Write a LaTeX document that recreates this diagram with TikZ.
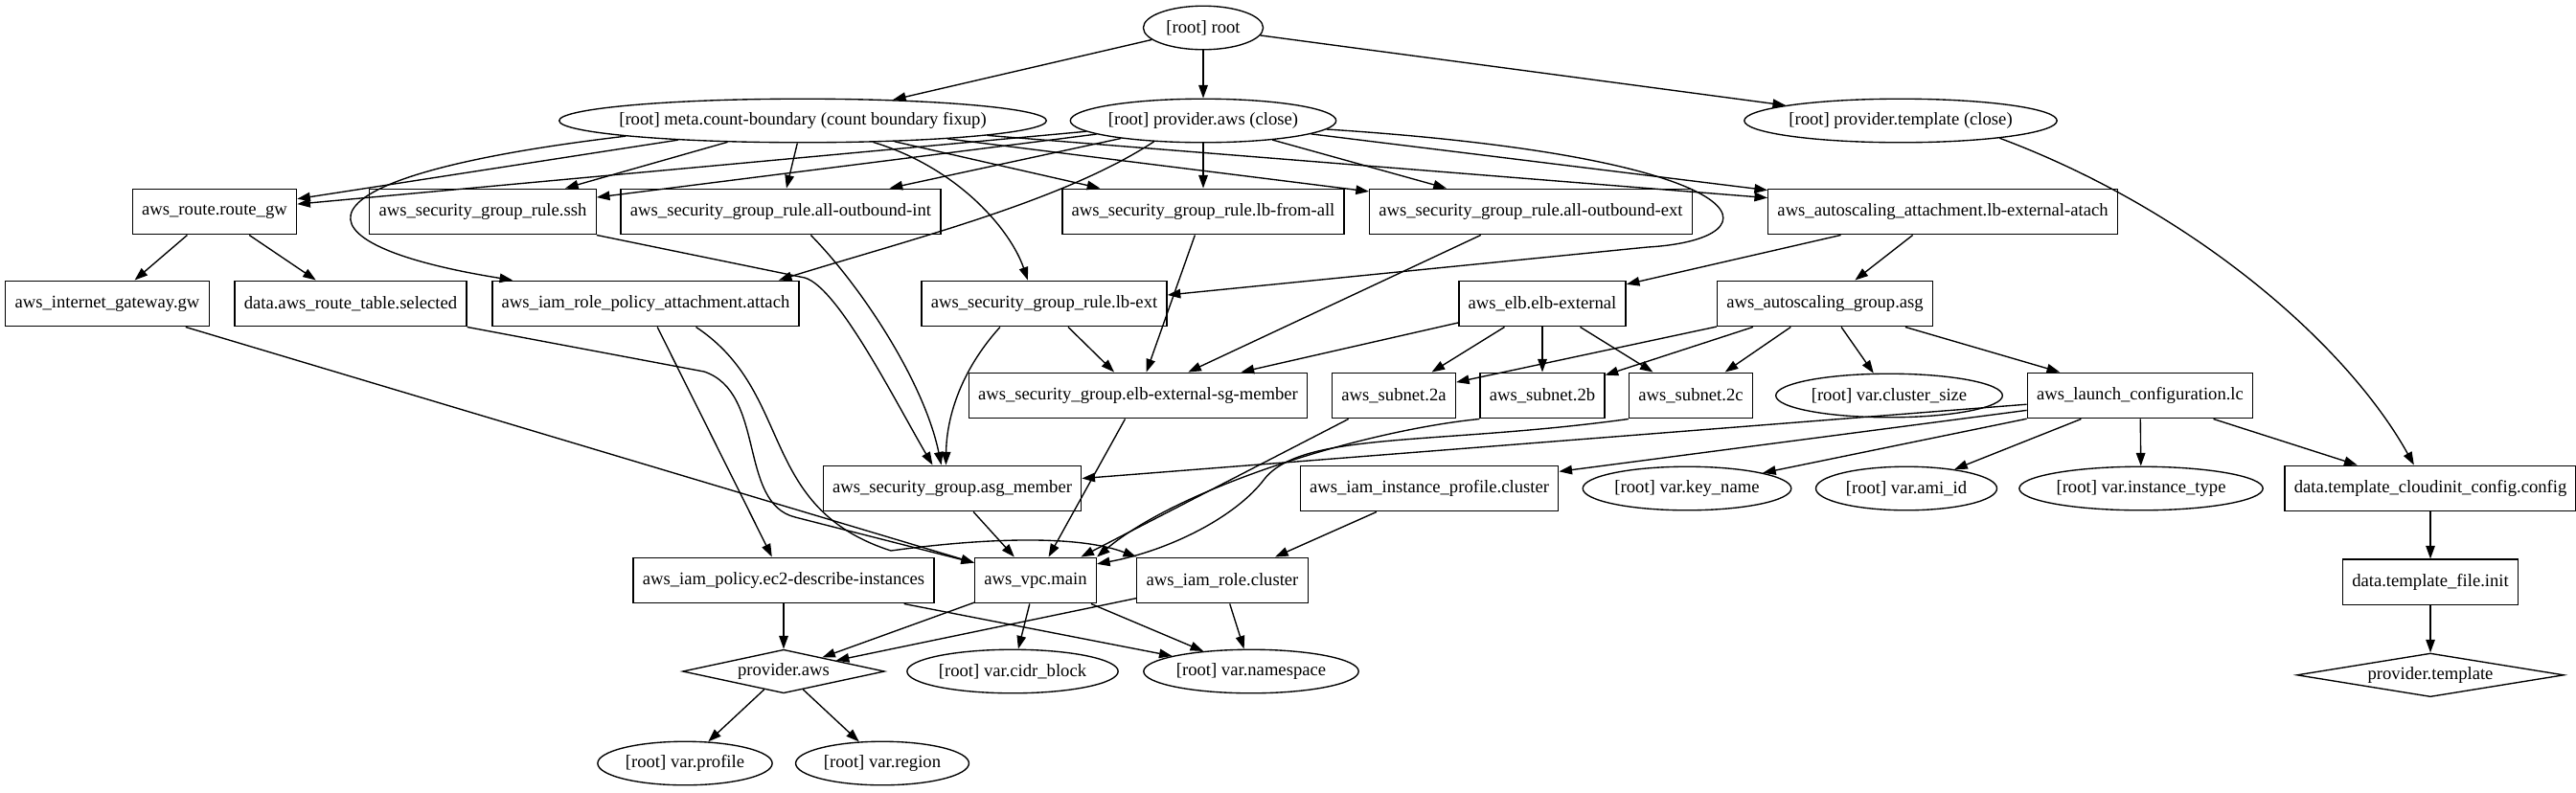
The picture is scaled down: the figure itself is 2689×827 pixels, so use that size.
\documentclass[tikz,border=0pt]{standalone}
\usepackage{fontspec}
\setmainfont{Liberation Serif}
\usetikzlibrary{arrows.meta,positioning,shapes.geometric}

\begin{document}
\begin{tikzpicture}[
    x=0.7353pt, y=-0.7353pt,
    node distance=36pt,
    resbox/.style={rectangle, draw, line width=1pt, inner xsep=7.2pt,
                   minimum height=35pt, font=\fontsize{13.7}{16}\selectfont},
    oval/.style={ellipse, draw, line width=1pt, inner xsep=-40pt, inner ysep=-12pt,
                 minimum height=33.5pt, minimum width=#1, font=\fontsize{13.7}{16}\selectfont},
    prov/.style={diamond, draw, line width=1pt, inner xsep=-30pt, inner ysep=-10pt,
                 minimum height=33.5pt, minimum width=#1, font=\fontsize{13.7}{16}\selectfont},
    arr/.style={-{Triangle[length=10pt,width=7pt]}, line width=1pt},
]
\useasboundingbox (0,0) rectangle (2689,827);

% Root and close nodes
\node[oval=92pt] (root) at (1256,29) {[root] root};
\node[oval=374pt] (meta) at (838,126) {[root] meta.count-boundary (count boundary fixup)};
\node[oval=204pt] (pclose) at (1256,126) {[root] provider.aws (close)};
\node[oval=240pt] (ptclose) at (1984,126) {[root] provider.template (close)};

% Rules and attachments
\node[resbox] (routegw) at (224,221) {aws\_route.route\_gw};
\node[resbox] (ssh) at (504,221) {aws\_security\_group\_rule.ssh};
\node[resbox] (outint) at (815,221) {aws\_security\_group\_rule.all-outbound-int};
\node[resbox] (lbfromall) at (1256,221) {aws\_security\_group\_rule.lb-from-all};
\node[resbox] (outext) at (1598,221) {aws\_security\_group\_rule.all-outbound-ext};
\node[resbox] (asgattach) at (2028,221) {aws\_autoscaling\_attachment.lb-external-atach};

\node[resbox] (igw) at (112,317) {aws\_internet\_gateway.gw};
\node[resbox] (rtsel) at (366,317) {data.aws\_route\_table.selected};
\node[resbox] (attach) at (674,317) {aws\_iam\_role\_policy\_attachment.attach};
\node[resbox] (lbext) at (1090,317) {aws\_security\_group\_rule.lb-ext};
\node[resbox] (elb) at (1610,317) {aws\_elb.elb-external};
\node[resbox] (asg) at (1905,317) {aws\_autoscaling\_group.asg};

% Groups, subnets, launch config
\node[resbox] (elbsg) at (1188,413) {aws\_security\_group.elb-external-sg-member};
\node[resbox] (sn2a) at (1455,413) {aws\_subnet.2a};
\node[resbox] (sn2b) at (1610,413) {aws\_subnet.2b};
\node[resbox] (sn2c) at (1765,413) {aws\_subnet.2c};
\node[oval=174pt] (clsize) at (1972,413) {[root] var.cluster\_size};
\node[resbox] (lc) at (2234,413) {aws\_launch\_configuration.lc};

\node[resbox] (asgmem) at (994,510) {aws\_security\_group.asg\_member};
\node[resbox] (instprof) at (1492,510) {aws\_iam\_instance\_profile.cluster};
\node[oval=160pt] (keyname) at (1761,510) {[root] var.key\_name};
\node[oval=139pt] (amiid) at (1990,510) {[root] var.ami\_id};
\node[oval=187pt] (insttype) at (2235,510) {[root] var.instance\_type};
\node[resbox] (cloudinit) at (2537,510) {data.template\_cloudinit\_config.config};

% VPC, IAM, providers
\node[resbox] (iampol) at (818,606) {aws\_iam\_policy.ec2-describe-instances};
\node[resbox] (vpc) at (1081,606) {aws\_vpc.main};
\node[resbox] (iamrole) at (1276,606) {aws\_iam\_role.cluster};
\node[resbox, below=of cloudinit] (tfinit) {data.template\_file.init};

\node[prov=155pt] (provaws) at (818,701) {provider.aws};
\node[oval=162pt] (cidr) at (1057,701) {[root] var.cidr\_block};
\node[oval=165pt] (ns) at (1306,701) {[root] var.namespace};
\node[prov=205pt, below=of tfinit] (provtpl) {provider.template};

\node[oval=134pt] (profile) at (715,797) {[root] var.profile};
\node[oval=133pt] (region) at (921,797) {[root] var.region};

% Arrows from root
\draw[arr] (root) -- (meta);
\draw[arr] (root) -- (pclose);
\draw[arr] (root) -- (ptclose);

% Count boundary
\draw[arr] (meta) -- (routegw);
\draw[arr] (meta.185) .. controls (290,185) and (300,255) .. (attach.170);
\draw[arr] (meta) -- (ssh);
\draw[arr] (meta) -- (outint);
\draw[arr] (meta.-17) .. controls (1000,175) and (1055,240) .. (lbext.125);
\draw[arr] (meta) -- (lbfromall);
\draw[arr] (meta) -- (outext);
\draw[arr] (meta) -- (asgattach);

% Provider close
\draw[arr] (pclose) -- (routegw);
\draw[arr] (pclose) -- (ssh);
\draw[arr] (pclose) -- (outint);
\draw[arr] (pclose.203) .. controls (1110,210) and (950,250) .. (attach.10);
\draw[arr] (pclose) -- (lbfromall);
\draw[arr] (pclose) -- (outext);
\draw[arr] (pclose.-4) .. controls (1850,165) and (1860,250) .. (1720,258) -- (lbext.4);
\draw[arr] (pclose) -- (asgattach);

% Route
\draw[arr] (routegw) -- (igw);
\draw[arr] (routegw) -- (rtsel);
\draw[arr] (igw) -- (vpc.164);
\draw[arr] (rtsel.south east) -- (735,388) .. controls (800,410) and (770,525) .. (830,540) -- (vpc.164);

% Policy attachment
\draw[arr] (attach) -- (iampol);
\draw[arr] (attach.-25) .. controls (830,410) and (790,530) .. (930,575)
    .. controls (1040,560) and (1130,560) .. (iamrole.north west);

% Security group rules
\draw[arr] (ssh.south east) -- (840,290) .. controls (875,300) and (935,420) .. (asgmem.130);
\draw[arr] (outint.-38) .. controls (900,300) and (965,400) .. (asgmem.115);
\draw[arr] (lbext.-152) .. controls (1000,390) and (988,440) .. (asgmem.105);
\draw[arr] (lbext) -- (elbsg);
\draw[arr] (lbfromall) -- (elbsg);
\draw[arr] (outext) -- (elbsg);

% ELB and autoscaling
\draw[arr] (asgattach) -- (elb);
\draw[arr] (asgattach) -- (asg);
\draw[arr] (elb) -- (elbsg);
\draw[arr] (elb) -- (sn2a);
\draw[arr] (elb) -- (sn2b);
\draw[arr] (elb) -- (sn2c);
\draw[arr] (asg) -- (sn2a);
\draw[arr] (asg) -- (sn2b);
\draw[arr] (asg) -- (sn2c);
\draw[arr] (asg) -- (clsize);
\draw[arr] (asg) -- (lc);

% Into the VPC
\draw[arr] (elbsg) -- (vpc);
\draw[arr] (asgmem) -- (vpc);
\draw[arr] (sn2a) -- (vpc);
\draw[arr] (sn2b.south west) .. controls (1420,450) and (1230,510) .. (vpc.north east);
\draw[arr] (sn2c.south west) .. controls (1500,465) and (1360,450) .. (1320,500)
    .. controls (1290,540) and (1220,575) .. (vpc.15);

% IAM and variables
\draw[arr] (instprof) -- (iamrole);
\draw[arr] (iampol) -- (provaws);
\draw[arr] (iampol) -- (ns);
\draw[arr] (vpc) -- (provaws);
\draw[arr] (vpc) -- (cidr);
\draw[arr] (vpc) -- (ns);
\draw[arr] (iamrole) -- (provaws);
\draw[arr] (iamrole) -- (ns);
\draw[arr] (provaws) -- (profile);
\draw[arr] (provaws) -- (region);

% Launch configuration
\draw[arr] (lc) -- (asgmem);
\draw[arr] (lc) -- (instprof);
\draw[arr] (lc) -- (keyname);
\draw[arr] (lc) -- (amiid);
\draw[arr] (lc) -- (insttype);
\draw[arr] (lc) -- (cloudinit);

% Template
\draw[arr] (ptclose.-10) .. controls (2290,220) and (2450,360) .. (cloudinit.125);
\draw[arr] (cloudinit) -- (tfinit);
\draw[arr] (tfinit) -- (provtpl);
\end{tikzpicture}
\end{document}
